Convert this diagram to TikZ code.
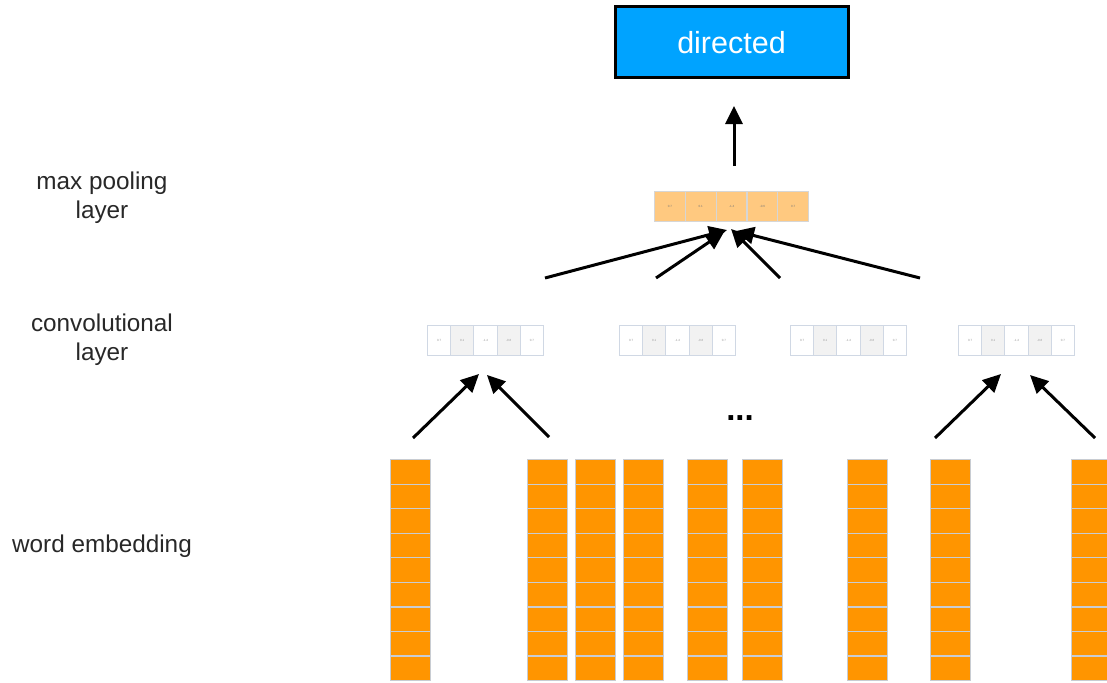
\documentclass[tikz,border=0pt]{standalone}
\usepackage{fontspec}
\setmainfont{Liberation Sans}
\usetikzlibrary{arrows.meta}
\definecolor{outblue}{RGB}{0,163,255}
\definecolor{poolfill}{RGB}{255,201,128}
\definecolor{poolline}{RGB}{214,214,214}
\definecolor{embfill}{RGB}{255,149,0}
\definecolor{embline}{RGB}{200,204,210}
\definecolor{convgray}{RGB}{242,242,242}
\definecolor{convline}{RGB}{208,216,228}
\definecolor{labelgray}{RGB}{40,40,40}
\definecolor{tinygray}{RGB}{150,150,150}
\tikzset{
  lbl/.style={font=\fontsize{24.3}{29}\selectfont, text=labelgray, align=center},
  outbox/.style={draw=black, line width=3pt, fill=outblue, text=white,
    minimum width=233pt, minimum height=71pt, inner sep=0pt,
    font=\fontsize{30.5}{36}\selectfont},
  embcell/.style={draw=embline, fill=embfill, line width=1.2pt,
    minimum width=40pt, minimum height=24.55pt, inner sep=0pt, anchor=north west},
  convcell/.style={draw=convline, line width=1pt,
    minimum width=23.2pt, minimum height=30pt, inner sep=0pt, anchor=north west,
    font=\fontsize{3}{3}\selectfont, text=tinygray},
  poolcell/.style={draw=poolline, fill=poolfill, line width=1.2pt,
    minimum width=30.8pt, minimum height=30pt, inner sep=0pt, anchor=north west,
    font=\fontsize{3}{3}\selectfont, text=tinygray!80!black},
  arr/.style={line width=3pt, -{Triangle[length=18pt,width=17pt]}},
}
\begin{document}
\begin{tikzpicture}[x=1pt,y=-1pt]
\clip (0,0) rectangle (1107,682);
\fill[white] (0,0) rectangle (1107,682);

% layer labels
\node[lbl] (lpool) at (102,197.5) {max pooling\\layer};
\node[lbl] (lconv) at (102,339.5) {convolutional\\layer};
\node[lbl] (lemb) at (102,546) {word embedding};

% output class
\node[outbox] (out) at (731.5,42.5) {directed};

% max pooling vector
\foreach \v [count=\i from 0] in {0.7,0.1,-1.4,-0.6,0.7}
  \node[poolcell] (pool-\i) at (654+30.8*\i,191) {\v};

% convolutional vectors
\foreach \x [count=\k] in {427,619,790,958}{
  \foreach \v [count=\i from 0] in {0.7,0.1,-1.4,-0.6,0.7}{
    \pgfmathsetmacro{\shade}{mod(\i,2)==1 ? 1 : 0}
    \ifdim\shade pt>0.5pt
      \node[convcell, fill=convgray] (conv\k-\i) at (\x+23.2*\i,325) {\v};
    \else
      \node[convcell, fill=white] (conv\k-\i) at (\x+23.2*\i,325) {\v};
    \fi
  }
}

% word embedding columns
\foreach \x [count=\k] in {390,527,575,623,687,742,847,930,1071}
  \foreach \j in {0,...,8}
    \node[embcell] (emb\k-\j) at (\x,459+24.55*\j) {};

% ellipsis between the convolution groups
\node[font=\bfseries\fontsize{33}{33}\selectfont, anchor=base] (dots) at (740,420) {...};

% arrow ends
\coordinate (ea1) at (413,438);  \coordinate (ca1) at (479,374);
\coordinate (ea2) at (549,437);  \coordinate (ca2) at (487,375);
\coordinate (ea3) at (935,438);  \coordinate (ca3) at (1001,374);
\coordinate (ea4) at (1095,438); \coordinate (ca4) at (1030,375);
\coordinate (cp1) at (545,278);  \coordinate (pa1) at (727,230);
\coordinate (cp2) at (656,278);  \coordinate (pa2) at (724,232);
\coordinate (cp3) at (780,278);  \coordinate (pa3) at (731,229);
\coordinate (cp4) at (920,278);  \coordinate (pa4) at (736,231);
\coordinate (pt) at (734,166);   \coordinate (ot) at (734,106);

% embeddings to convolution
\draw[arr] (ea1) -- (ca1);
\draw[arr] (ea2) -- (ca2);
\draw[arr] (ea3) -- (ca3);
\draw[arr] (ea4) -- (ca4);
% convolution to max pooling
\draw[arr] (cp1) -- (pa1);
\draw[arr] (cp2) -- (pa2);
\draw[arr] (cp3) -- (pa3);
\draw[arr] (cp4) -- (pa4);
% max pooling to output
\draw[arr] (pt) -- (ot);
\end{tikzpicture}
\end{document}
